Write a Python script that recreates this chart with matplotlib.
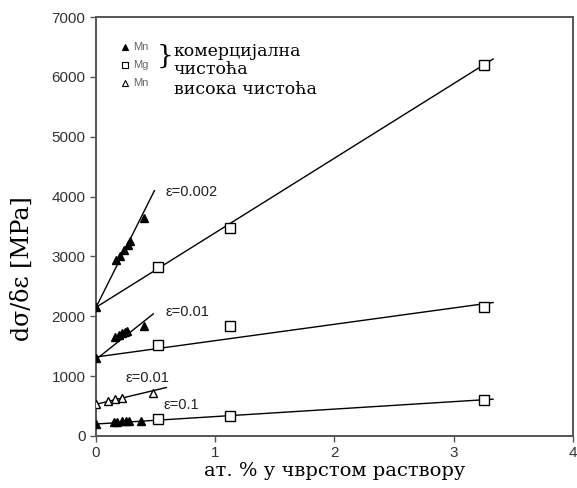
import matplotlib
matplotlib.use('Agg')
import matplotlib.pyplot as plt

# commercial purity Mn (filled triangles)
mn_x_002 = [0, 0.17, 0.20, 0.235, 0.265, 0.285, 0.40]
mn_y_002 = [2150, 2940, 3000, 3110, 3190, 3250, 3640]
mn_x_01 = [0, 0.16, 0.19, 0.215, 0.24, 0.26, 0.40]
mn_y_01 = [1300, 1650, 1690, 1720, 1730, 1750, 1830]
mn_x_1 = [0, 0.15, 0.18, 0.22, 0.25, 0.28, 0.38]
mn_y_1 = [200, 230, 240, 245, 250, 250, 245]

# commercial purity Mg (open squares)
mg_x = [0.52, 1.12, 3.25]
mg_y_002 = [2820, 3480, 6200]
mg_y_01 = [1520, 1830, 2150]
mg_y_1 = [280, 335, 600]

# high purity Mn (open triangles), eps=0.01
hp_x = [0, 0.10, 0.16, 0.22, 0.48]
hp_y = [540, 590, 610, 630, 720]

# fitted lines (end points)
fit_lines = [
    ([0, 0.49], [2150, 4100]),
    ([0, 3.33], [2150, 6300]),
    ([0, 0.48], [1280, 2040]),
    ([0, 3.33], [1320, 2230]),
    ([0, 0.59], [530, 810]),
    ([0, 3.33], [200, 615]),
]

eps_labels = ['ε=0.002', 'ε=0.01', 'ε=0.01', 'ε=0.1']
eps_pos = [(0.58, 4080), (0.58, 2070), (0.25, 970), (0.57, 520)]

plt.rcParams['font.family'] = 'Liberation Sans'
fig = plt.figure(figsize=(5.77, 4.88), dpi=100)
ax = fig.add_axes([0.1664, 0.1066, 0.8266, 0.8584])

for fx, fy in fit_lines:
    ax.plot(fx, fy, color='black', lw=1.0, zorder=2)

for xs, ys in [(mn_x_002, mn_y_002), (mn_x_01, mn_y_01), (mn_x_1, mn_y_1)]:
    ax.plot(xs, ys, ls='none', marker='^', ms=6, color='black', zorder=3)

for ys in [mg_y_002, mg_y_01, mg_y_1]:
    ax.plot(mg_x, ys, ls='none', marker='s', ms=7, mfc='white', mec='black', mew=1.0, zorder=3)

ax.plot(hp_x, hp_y, ls='none', marker='^', ms=6, mfc='white', mec='black', mew=1.0, zorder=3)

for lab, (lx, ly) in zip(eps_labels, eps_pos):
    ax.text(lx, ly, lab, fontsize=10.5, color='#222222', va='center', ha='left')

# legend drawn by hand
leg_x = 0.245
leg_rows = [(6500, '^', 'black'), (6200, 's', 'white'), (5900, '^', 'white')]
leg_names = ['Mn', 'Mg', 'Mn']
for (ly, mk, fc), nm in zip(leg_rows, leg_names):
    ax.plot([leg_x], [ly], ls='none', marker=mk, ms=4, mfc=fc, mec='black', mew=0.8)
    ax.text(leg_x + 0.07, ly, nm, fontsize=8, color='#666666', va='center', ha='left')
serif = 'DejaVu Serif'
ax.text(0.51, 6350, '}', fontsize=19, va='center', ha='left', family=serif, fontweight='light')
ax.text(0.65, 6430, 'комерцијална', fontsize=12.5, va='center', ha='left', family=serif)
ax.text(0.65, 6130, 'чистоћа', fontsize=12.5, va='center', ha='left', family=serif)
ax.text(0.65, 5790, 'висока чистоћа', fontsize=12.5, va='center', ha='left', family=serif)

ax.set_xlim(0, 4)
ax.set_ylim(0, 7000)
ax.set_xticks([0, 1, 2, 3, 4])
ax.set_yticks(range(0, 7001, 1000))
ax.tick_params(direction='out', length=4, width=1, colors='#555555', labelcolor='#333333', labelsize=11)

for sp in ax.spines.values():
    sp.set_color('#555555')
    sp.set_linewidth(1.4)

ax.set_xlabel('ат. % у чврстом раствору', family=serif, fontsize=14, labelpad=1)
ax.set_ylabel('dσ/δε [MPa]', family=serif, fontsize=17, labelpad=8)
ax.yaxis.set_label_coords(-0.13, 0.40)

fig.savefig('out.png', dpi=100)
